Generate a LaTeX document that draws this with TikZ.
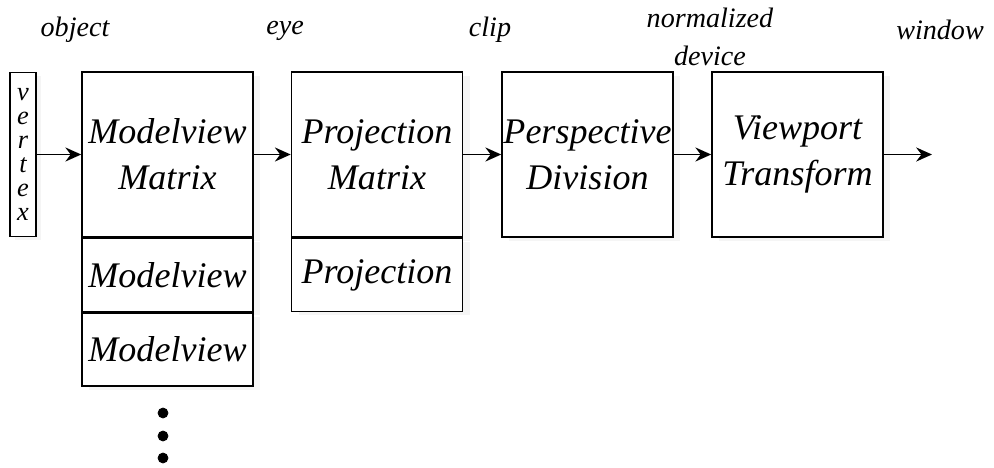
\documentclass[tikz,border=0pt]{standalone}
\usepackage{fontspec}
\setmainfont{Liberation Serif}
\usepackage{tikz}
\usetikzlibrary{arrows,arrows.meta,shapes,positioning,shadows}
\tikzset{stage/.style={draw,line width=0.9pt,fill=white,minimum width=3.42cm,minimum height=3.3cm,inner sep=0pt,align=center,font=\fontsize{20.5}{26}\selectfont\itshape,drop shadow={shadow xshift=4pt,shadow yshift=-2pt,opacity=0.08}},
         stack/.style={stage,minimum height=1.46cm},
         space/.style={font=\fontsize{16}{22}\selectfont\itshape,align=center},
         flow/.style={-{Stealth[length=9pt,width=8pt,inset=3pt]},line width=1pt}}

\begin{document}
\begin{tikzpicture}
\useasboundingbox (0,0) rectangle (19.88,9.34);

\node[draw,line width=0.9pt,fill=white,minimum width=0.52cm,minimum height=3.28cm,inner sep=0pt,align=center,font=\fontsize{15}{13.6}\selectfont\itshape,drop shadow={shadow xshift=3pt,shadow yshift=-2pt,opacity=0.08}] (vertex) at (0.46,6.25) {v\\e\\r\\t\\e\\x};

\node[stage] (mvm) at (3.35,6.25) {Modelview\\Matrix};
\node[stack,anchor=north] (mv1) at (mvm.south) {Modelview};
\node[stack,anchor=north] (mv2) at (mv1.south) {Modelview};

\node[stage] (pm) at (7.54,6.25) {Projection\\Matrix};
\node[stack,anchor=north] (pj) at (pm.south) {Projection};

\node[stage] (pd) at (11.75,6.25) {Perspective\\Division};
\node[stage] (vt) at (15.95,6.25) {Viewport\\Transform};
\coordinate (out) at (18.64,6.25);

\node[space] (obj) at (1.5,8.74) {object};
\node[space] (eye) at (5.7,8.72) {eye};
\node[space] (clip) at (9.8,8.74) {clip};
\node[space] (ndc) at (14.2,8.6) {normalized\\device};
\node[space] (win) at (18.8,8.74) {window};

\draw[flow] (vertex) -- (mvm);
\draw[flow] (mvm) -- (pm);
\draw[flow] (pm) -- (pd);
\draw[flow] (pd) -- (vt);
\draw[flow] (vt) -- (out);

\foreach \y in {1.08,0.62,0.18}
  \filldraw[black] (3.26,\y) circle (0.1);

\end{tikzpicture}
\end{document}
